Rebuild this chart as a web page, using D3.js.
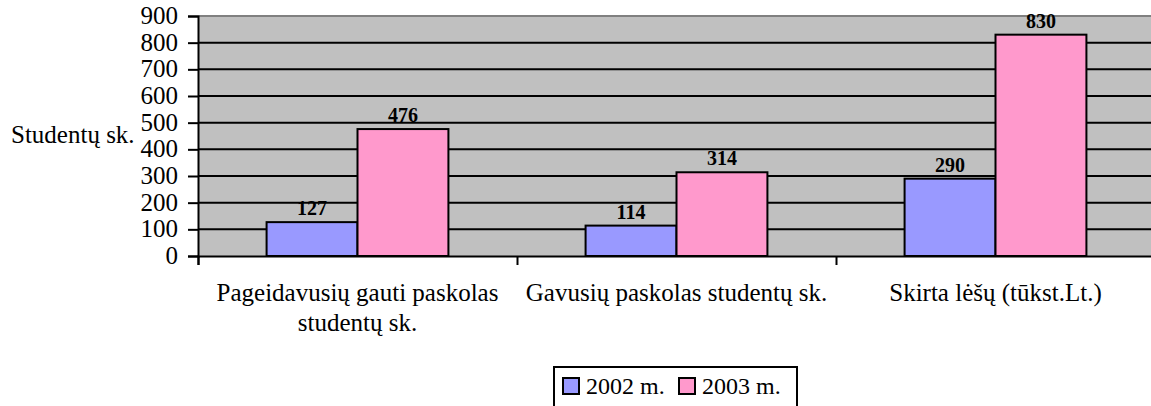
<!DOCTYPE html>
<html>
<head>
<meta charset="utf-8">
<script src="https://cdn.jsdelivr.net/npm/d3@7"></script>
<style>
  body { margin: 0; background: #fff; }
  text { font-family: "Liberation Serif", "Times New Roman", serif; fill: #000; }
</style>
</head>
<body>
<div id="chart"></div>
<script>
// chart data
var categories = [["Pageidavusių gauti paskolas", "studentų sk."], ["Gavusių paskolas studentų sk."], ["Skirta lėšų (tūkst.Lt.)"]];
var seriesNames = ["2002 m.", "2003 m."];
var values2002 = [127, 114, 290];
var values2003 = [476, 314, 830];
var yTicks = [0, 100, 200, 300, 400, 500, 600, 700, 800, 900];
var colors = ["#9999ff", "#ff99cc"];

var width = 1151;
var height = 406;
var plotLeft = 198, plotRight = 1155, plotTop = 16, plotBottom = 256;

var svg = d3.select("#chart")
  .append("svg")
  .attr("width", width)
  .attr("height", height);

// scales
var x0 = d3.scaleBand()
  .domain(d3.range(categories.length))
  .range([plotLeft, plotRight]);

var bw = x0.bandwidth();
var x1 = d3.scaleBand()
  .domain([0, 1])
  .range([bw * 0.215, bw * 0.785]);

var y = d3.scaleLinear()
  .domain([0, 900])
  .range([plotBottom, plotTop]);

// plot background
svg.append("rect")
  .attr("x", plotLeft)
  .attr("y", plotTop)
  .attr("width", plotRight - plotLeft)
  .attr("height", plotBottom - plotTop)
  .attr("fill", "#c0c0c0");

// grid lines
svg.append("g")
  .selectAll("line")
  .data(yTicks.filter(function (d) { return d > 0; }))
  .enter()
  .append("line")
  .attr("x1", plotLeft)
  .attr("x2", plotRight)
  .attr("y1", function (d) { return y(d); })
  .attr("y2", function (d) { return y(d); })
  .attr("stroke", function (d) { return d === 900 ? "#808080" : "#000"; })
  .attr("stroke-width", 2);

// bars
var groups = svg.append("g")
  .selectAll("g")
  .data(categories.map(function (c, i) { return [values2002[i], values2003[i]]; }))
  .enter()
  .append("g")
  .attr("transform", function (d, i) { return "translate(" + x0(i) + ",0)"; });

groups.selectAll("rect")
  .data(function (d) { return d; })
  .enter()
  .append("rect")
  .attr("x", function (d, j) { return x1(j); })
  .attr("y", function (d) { return y(d); })
  .attr("width", x1.bandwidth())
  .attr("height", function (d) { return plotBottom - y(d); })
  .attr("fill", function (d, j) { return colors[j]; })
  .attr("stroke", "#000")
  .attr("stroke-width", 2);

groups.selectAll("text")
  .data(function (d) { return d; })
  .enter()
  .append("text")
  .attr("x", function (d, j) { return x1(j) + x1.bandwidth() / 2; })
  .attr("y", function (d) { return y(d) - 7; })
  .attr("text-anchor", "middle")
  .attr("font-weight", "bold")
  .attr("font-size", "20px")
  .text(function (d) { return d; });

// y axis
var yAxis = svg.append("g")
  .attr("transform", "translate(" + plotLeft + ",0)")
  .call(d3.axisLeft(y).tickValues(yTicks).tickSize(10).tickPadding(10));
yAxis.select(".domain").attr("stroke", "#000").attr("stroke-width", 2);
yAxis.selectAll(".tick line").attr("stroke", "#000").attr("stroke-width", 2);
yAxis.selectAll(".tick text")
  .attr("font-size", "25px")
  .attr("dy", "0.3em")
  .attr("fill", "#000");

// x axis
var xTickScale = d3.scaleLinear().domain([0, categories.length]).range([plotLeft, plotRight]);
var xAxis = svg.append("g")
  .attr("transform", "translate(0," + plotBottom + ")")
  .call(d3.axisBottom(xTickScale).tickValues(d3.range(categories.length + 1)).tickSize(9).tickFormat(""));
xAxis.select(".domain").attr("stroke", "#000").attr("stroke-width", 2);
xAxis.selectAll(".tick line").attr("stroke", "#000").attr("stroke-width", 2);

// category labels
svg.append("g")
  .selectAll("text")
  .data(categories)
  .enter()
  .append("text")
  .attr("x", function (d, i) { return x0(i) + bw / 2; })
  .attr("y", 301)
  .attr("text-anchor", "middle")
  .attr("font-size", "25px")
  .each(function (d) {
    var t = d3.select(this);
    d.forEach(function (line, k) {
      t.append("tspan")
        .attr("x", t.attr("x"))
        .attr("dy", k === 0 ? 0 : 30)
        .text(line);
    });
  });

// y label
svg.append("text")
  .attr("x", 11)
  .attr("y", 143)
  .attr("font-size", "25px")
  .text("Studentų sk.");

// legend
var legend = svg.append("g").attr("transform", "translate(554,367)");
legend.append("rect")
  .attr("x", 0).attr("y", 0)
  .attr("width", 243).attr("height", 45)
  .attr("fill", "#fff")
  .attr("stroke", "#000")
  .attr("stroke-width", 2);

var items = legend.selectAll(".item")
  .data(seriesNames)
  .enter()
  .append("g")
  .attr("transform", function (d, i) { return "translate(" + (9 + i * 116) + ",11)"; });

items.append("rect")
  .attr("width", 16).attr("height", 16)
  .attr("fill", function (d, i) { return colors[i]; })
  .attr("stroke", "#000")
  .attr("stroke-width", 2);

items.append("text")
  .attr("x", 23)
  .attr("y", 16)
  .attr("font-size", "24px")
  .text(function (d) { return d; });
</script>
</body>
</html>
